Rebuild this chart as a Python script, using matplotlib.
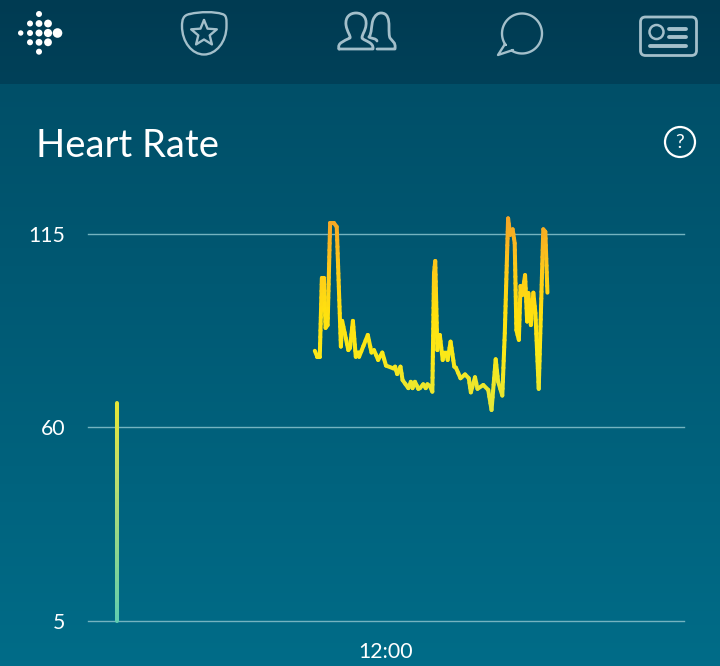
import numpy as np
import matplotlib
matplotlib.use("Agg")
import matplotlib.pyplot as plt
from matplotlib.collections import LineCollection
from matplotlib.colors import LinearSegmentedColormap
from matplotlib.patches import Circle, FancyBboxPatch, PathPatch
from matplotlib.path import Path

# minutes since midnight / bpm
early_min = [70, 70]
early_bpm = [5, 67]

minutes = [548, 554, 560, 565, 570, 574, 579, 585, 594, 601, 611, 614, 629, 633, 640, 647, 653, 655,
           676, 685, 691, 701, 711, 720, 738, 742, 747, 755, 760, 774, 780, 784, 790, 798, 802, 810,
           816, 820, 826, 832, 836, 839, 844, 850, 857, 860, 865, 869, 876, 885, 889, 900, 911, 920,
           925, 935, 941, 955, 967, 975, 985, 991, 1001, 1007, 1015, 1020, 1026, 1031, 1035, 1041,
           1045, 1049, 1056, 1061, 1064, 1070, 1076, 1081, 1089, 1100, 1105, 1110]
bpm = [81.7, 80, 80, 102.4, 102.4, 88.2, 89, 118, 118, 116.9, 82.9, 90.2, 81.9, 82.5, 90.2, 80, 81.2, 80,
       86.2, 81.2, 81.9, 79.1, 81.2, 77.5, 76.7, 77.2, 75.1, 77.2, 73.4, 71.1, 72.9, 71.1, 72.9, 70.9, 71.1, 72.2,
       71.1, 72.2, 71.7, 70.1, 103.8, 107.2, 81.9, 86.2, 79.1, 81.2, 81.2, 79.1, 84.3, 77.2, 76.9, 73.9, 75, 73.9,
       69.9, 74.2, 70.9, 72, 70.6, 64.9, 79.3, 72.9, 69, 86.7, 119.3, 114.6, 116.2, 112.2, 87.6, 84.8,
       100.1, 97.5, 103.2, 90, 98.1, 89, 98.2, 92.4, 70.9, 116.2, 115.5, 98.2]

y_ticks = [5, 60, 115]
x_ticks = [720]
x_labels = ["12:00"]
titulo = "Heart Rate"

plt.rcParams["font.family"] = ["Lato", "DejaVu Sans"]

W, H = 720, 666
fig = plt.figure(figsize=(W / 100, H / 100), dpi=100)

# fundo e icones em coordenadas de pixel
bg = fig.add_axes([0, 0, 1, 1])
bg.set_xlim(0, W)
bg.set_ylim(H, 0)
bg.axis("off")

def grad(c1, c2, y0, y1):
    cm = LinearSegmentedColormap.from_list("g", [c1, c2])
    bg.imshow(np.linspace(0, 1, 128).reshape(-1, 1), cmap=cm, aspect="auto",
              extent=[0, W, y1, y0], zorder=0)

grad("#003b52", "#004159", 0, 84)
grad("#004f68", "#006c88", 84, H)
bg.set_xlim(0, W)
bg.set_ylim(H, 0)

# logo
dots = [(39, 14, 3), (30, 23.5, 3), (39, 23.5, 3.4), (48, 23.5, 3.9),
        (20.7, 33, 2.7), (30, 33, 3), (39, 33, 3.5), (48, 33, 4.1), (57.5, 33, 4.8),
        (30, 42.3, 3), (39, 42.3, 3.4), (48, 42.3, 3.9), (39, 51.7, 3)]
for x, y, r in dots:
    bg.add_patch(Circle((x, y), r, color="white", lw=0, zorder=3))

ICO = "#a3bfca"

def curva(pts, lw=1.7, color=ICO):
    verts = [p[:2] for p in pts]
    codes = [p[2] for p in pts]
    bg.add_patch(PathPatch(Path(verts, codes), fc="none", ec=color, lw=lw, zorder=3,
                           capstyle="round", joinstyle="round"))

M, L, C = Path.MOVETO, Path.LINETO, Path.CURVE4

# escudo
curva([(190, 14, M), (200, 11.5, C), (215, 11.5, C), (222, 14, C), (227, 15, C), (226.5, 20, C), (226.5, 26, L),
       (226.5, 42, C), (216, 54.5, C), (204, 54.5, C), (192, 54.5, C), (182, 42, C), (182, 26, C),
       (182, 20, C), (183, 15, C), (190, 14, C)])
ang = np.deg2rad(90 + 36 * np.arange(10))
rad = np.array([13.5, 6] * 5)
star = [(204 + r * np.cos(a), 33.5 - r * np.sin(a), M if i == 0 else L) for i, (r, a) in enumerate(zip(rad, ang))]
star.append(star[0][:2] + (L,))
curva(star)

# pessoas
curva([(339, 49, M), (337, 43, C), (344, 41, C), (350, 38, C), (351, 36, C), (347, 32, C), (346, 25, C),
       (345, 17, C), (350, 13, C), (356, 13, C), (362, 13, C), (367, 17, C), (366, 25, C),
       (365.5, 31, C), (362, 34, C), (362, 38, C), (364, 41, C), (374, 42, C), (373, 49, C),
       (339, 49, L)], lw=2)
curva([(369, 37, M), (372, 33, C), (371, 26, C), (373, 20, C), (375, 15, C), (378, 13, C), (381, 13, C),
       (388, 13, C), (389, 20, C), (389, 26, C), (389, 32, C), (389, 36, C), (390, 38, C),
       (392, 41, C), (396, 42, C), (395, 49, C), (377, 49, L)], lw=2)
curva([(369, 37, M), (372, 39, C), (376, 38, C), (377, 41, C)], lw=2)

# balao
t = np.deg2rad(np.linspace(-215, 120, 80))
balao = [(522 + 20 * np.cos(a), 33.5 + 20 * np.sin(a), M if i == 0 else L) for i, a in enumerate(t)]
balao += [(513, 50, L), (498, 55, L), (505, 44, L), (balao[0][0], balao[0][1], L)]
curva(balao)

# cartao
bg.add_patch(FancyBboxPatch((640.5, 17), 56, 38.5, boxstyle="round,pad=0,rounding_size=5",
                            fc="none", ec=ICO, lw=2, zorder=3))
bg.add_patch(Circle((656.5, 32), 7, fc="none", ec=ICO, lw=1.8, zorder=3))
for x0, x1, y in [(669, 686, 28.5), (669, 686, 37), (650, 686, 45.5)]:
    bg.plot([x0, x1], [y, y], color=ICO, lw=2.8, solid_capstyle="round", zorder=3)

# ajuda
bg.add_patch(Circle((680, 142), 15, fc="none", ec="white", lw=1.6, zorder=3))
bg.text(680, 143, "?", color="white", fontsize=14, ha="center", va="center", zorder=3)

bg.text(36, 146, titulo, color="white", fontsize=27.5, ha="left", va="center", zorder=3)

# grafico
ax = fig.add_axes([88 / W, 1 - 621 / H, 596 / W, (621 - 233.5) / H])
ax.patch.set_alpha(0)
ax.set_xlim(0, 1440)
ax.set_ylim(5, 115)
for s in ax.spines.values():
    s.set_visible(False)
ax.set_yticks(y_ticks)
ax.set_xticks(x_ticks, x_labels)
ax.tick_params(length=0, labelcolor="white", labelsize=15.3)
ax.tick_params(axis="y", pad=16.5)
ax.tick_params(axis="x", pad=15)
ax.grid(True, axis="y", color="#74b3c0", lw=1)
ax.grid(False, axis="x")
ax.set_axisbelow(True)
for g in ax.get_ygridlines():
    g.set_clip_on(False)

cmap = LinearSegmentedColormap.from_list("hr", [(0, "#5fcdb0"), (0.38, "#c4df68"), (0.54, "#e6e636"),
                                                 (0.66, "#fbe818"), (0.76, "#ffe10f"), (0.87, "#fdc91a"),
                                                 (1, "#f5a327")])

def desenha(xs, ys):
    # subdivide so para o gradiente de cor
    segs, cores = [], []
    for i in range(len(xs) - 1):
        n = max(2, int(abs(ys[i + 1] - ys[i]) / 2) + 2)
        px = np.linspace(xs[i], xs[i + 1], n)
        py = np.linspace(ys[i], ys[i + 1], n)
        for j in range(n - 1):
            segs.append([(px[j], py[j]), (px[j + 1], py[j + 1])])
            cores.append(cmap(((py[j] + py[j + 1]) / 2 - 5) / 115))
    lc = LineCollection(segs, colors=cores, lw=2.9, capstyle="round", clip_on=False, zorder=3)
    ax.add_collection(lc)

desenha(early_min, early_bpm)
desenha(minutes, bpm)

fig.savefig("out.png", dpi=100)
